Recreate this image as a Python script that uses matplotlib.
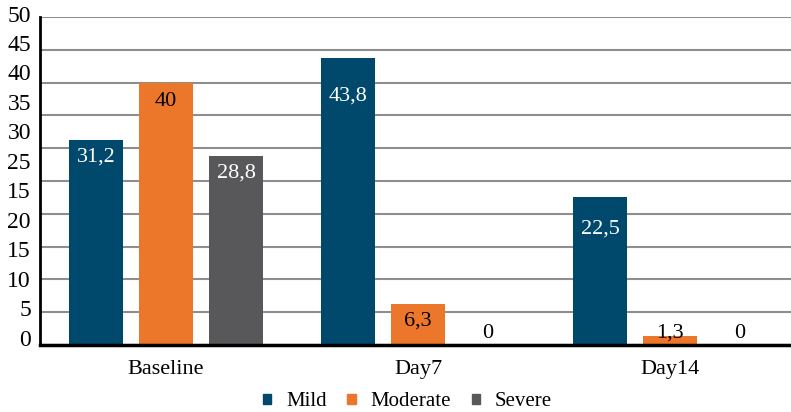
import numpy as np
import matplotlib.pyplot as plt
from matplotlib.patches import Patch

plt.rcParams['font.family'] = ['Liberation Serif', 'DejaVu Serif']

# Severity share at each visit
visits = ["Baseline", "Day7", "Day14"]
mild = [31.2, 43.8, 22.5]
moderate = [40, 6.3, 1.3]
severe = [28.8, 0, 0]
series_names = ["Mild", "Moderate", "Severe"]
ytick_labels = ["50", "45", "40", "35", "30", "25", "15", "20", "15", "10", "5", "0"]

colors = ["#00486C", "#EC7629", "#58585A"]
text_colors = ["white", "black", "white"]
# how far (px) each value label sits below the top of its bar
label_drop = [[17, 38, 32], [19, 17, -3], [17, -12, -12]]

fig = plt.figure(figsize=(7.91, 4.12), dpi=100)
ax = fig.add_axes([40 / 791, 1 - 345 / 412, 751 / 791, 328 / 412])

x = np.arange(len(visits))
width = 0.214
step = 0.278
px = 0.72  # pixels -> points at 100 dpi

for i, (vals, name) in enumerate(zip([mild, moderate, severe], series_names)):
    pos = x + (i - 1) * step
    ax.bar(pos, vals, width=width, color=colors[i], label=name, zorder=3)
    for p, v, d in zip(pos, vals, label_drop[i]):
        lbl = f"{v:g}".replace(".", ",")
        col = text_colors[i] if v > 0 else "black"
        ax.annotate(lbl, xy=(p, v), xytext=(0, -d * px), textcoords="offset points",
                    ha="center", va="center", fontsize=16, color=col, zorder=4)

ax.set_xlim(-0.5, 2.48)
ax.set_ylim(0, 50)
ax.set_yticks(np.arange(0, 51, 5))
ax.set_yticklabels([])
ax.tick_params(axis="y", length=0)
ax.tick_params(axis="x", length=0, labelsize=16, pad=11)
ax.set_xticks(x)
ax.set_xticklabels(visits)
ax.grid(axis="y", color="#8E8E8E", linewidth=1.5, zorder=0)

for s in ["top", "right"]:
    ax.spines[s].set_visible(False)
ax.spines["left"].set_linewidth(2)
ax.spines["bottom"].set_linewidth(2.5)
ax.spines["bottom"].set_zorder(5)

# the value column drawn beside the left axis
for y, t in zip(np.linspace(1 + 1 / 328, 5 / 328, len(ytick_labels)), ytick_labels):
    ax.text(-9 / 751, y, t, transform=ax.transAxes, ha="right", va="center", fontsize=17)

handles = [Patch(color=c) for c in colors]
fig.legend(handles, series_names, loc="center", bbox_to_anchor=(0.515, 1 - 402 / 412),
           ncol=3, frameon=False, prop={"family": ["Liberation Serif"], "size": 15},
           handlelength=0.4, handleheight=0.4, handletextpad=0.7, columnspacing=1.0)

fig.savefig("out.png", dpi=100)
